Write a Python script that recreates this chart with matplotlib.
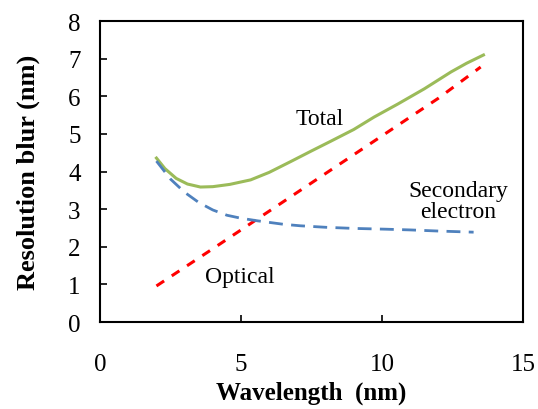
import matplotlib.pyplot as plt

# values
wl_opt = [2, 4, 6, 8, 10, 12, 13.5]
optical = [0.96, 1.95, 2.95, 3.95, 4.95, 5.95, 6.78]

wl_se = [2, 2.5, 3, 3.5, 4, 4.5, 5, 5.6, 6.5, 7.1, 8, 9, 10.1, 11, 12, 13.25]
secondary = [4.28, 3.8, 3.45, 3.18, 2.98, 2.84, 2.76, 2.69, 2.6, 2.56, 2.52, 2.49, 2.47, 2.45, 2.42, 2.39]

wl_tot = [2, 2.3, 2.7, 3.1, 3.56, 4, 4.6, 5.34, 6, 6.77, 7.5, 8.19, 9, 9.72,
          10.57, 11.5, 12.45, 13, 13.6]
total = [4.36, 4.08, 3.82, 3.67, 3.59, 3.6, 3.66, 3.78, 3.98, 4.27, 4.55, 4.81,
         5.12, 5.45, 5.8, 6.2, 6.65, 6.88, 7.1]

plt.rcParams["font.family"] = ["Liberation Serif", "DejaVu Serif"]

fig = plt.figure(figsize=(5.38, 4.10), dpi=100)
ax = fig.add_axes([0.186, 0.212, 0.786, 0.734])

ax.plot(wl_tot, total, color="#9BBB59", lw=2.2)
ax.plot(wl_opt, optical, color="#FF0000", lw=2.2, dashes=(3, 3))
ax.plot(wl_se, secondary, color="#4F81BD", lw=2.0, dashes=(5, 3))

ax.text(7.8, 5.4, "Total", fontsize=17, ha="center", va="center")
ax.text(12.7, 3.22, "Secondary\nelectron", fontsize=17, ha="center", va="center",
        linespacing=0.95)
ax.text(4.96, 1.2, "Optical", fontsize=17, ha="center", va="center")

ax.set_xlim(0, 15)
ax.set_ylim(0, 8)
ax.set_xticks([0, 5, 10, 15])
ax.set_yticks(range(0, 9))
ax.tick_params(direction="in", labelsize=18, length=5, width=1.2,
               top=False, right=False)
ax.tick_params(axis="x", pad=22)
ax.tick_params(axis="y", pad=14)
for s in ax.spines.values():
    s.set_linewidth(1.5)

ax.set_xlabel("Wavelength  (nm)", fontsize=18, fontweight="bold", labelpad=4)
ax.set_ylabel("Resolution blur (nm)", fontsize=19, fontweight="bold", labelpad=20)

fig.savefig("out.png", dpi=100)
